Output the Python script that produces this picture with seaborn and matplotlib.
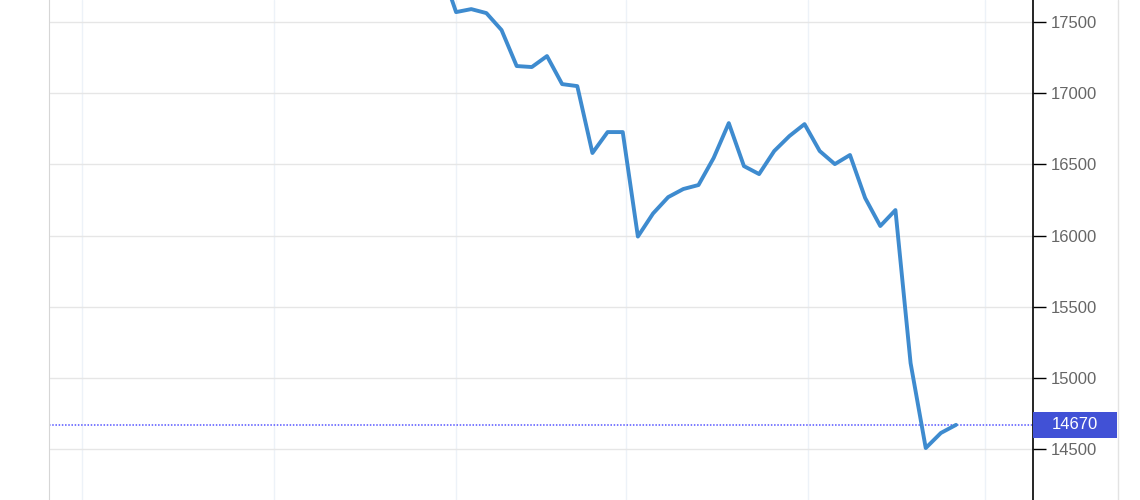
import numpy as np
import pandas as pd

import matplotlib.pyplot as plt
import matplotlib.transforms as mtransforms
from matplotlib.lines import Line2D
from matplotlib.patches import Rectangle
import seaborn as sns

# Valores (el primero queda fuera por arriba)
valores = [17880, 17570, 17591, 17563, 17444, 17191, 17184, 17261, 17064, 17050,
           16580, 16727, 16727, 15993, 16155, 16270, 16327, 16355, 16545, 16790,
           16488, 16432, 16594, 16699, 16783, 16594, 16502, 16566, 16264, 16067,
           16179, 15104, 14507, 14613, 14670]
ultimo = 14670
y_ticks = [14500, 15000, 15500, 16000, 16500, 17000, 17500]
# Separadores de mes en unidades de indice
meses = [-23.7, -11.0, 1.0, 12.2, 24.2, 35.9]

df = pd.DataFrame({"idx": np.arange(len(valores)), "valor": valores})

sns.set_style("white")
plt.rcParams['font.family'] = ['Liberation Sans', 'DejaVu Sans']

fig = plt.figure(figsize=(11.4, 5), dpi=100)
ax = fig.add_axes([49 / 1140, 0, (1033 - 49) / 1140, 1])

# Rejilla
for m in meses:
    ax.axvline(m, color="#edf2f8", lw=1, zorder=0)
for t in y_ticks:
    ax.axhline(t, color="#e6e6e6", lw=1, zorder=0)

sns.lineplot(data=df, x="idx", y="valor", ax=ax, color="#3e8bcf", lw=2.8, zorder=3)

ax.axhline(ultimo, color="#5555ff", lw=1.1, ls=(0, (1, 1.1)), zorder=2)

ax.set_xlim(-25.87, 39.08)
ax.set_ylim(14142, 17655)
ax.set_xticks([])
ax.set_yticks(y_ticks)
ax.yaxis.tick_right()
ax.tick_params(axis="y", length=9.5, width=1, color="black", pad=3,
               labelsize=12, labelcolor="#666666")
ax.set_xlabel("")
ax.set_ylabel("")

for lado in ["top", "bottom"]:
    ax.spines[lado].set_visible(False)
ax.spines["left"].set_color("#d6d6d6")
ax.spines["right"].set_color("black")
ax.spines["right"].set_linewidth(1.2)

# Etiqueta del ultimo valor
trans = mtransforms.blended_transform_factory(ax.transAxes, ax.transData)
alto = 13 / 71.17 * 500
ax.add_patch(Rectangle((1.0, ultimo - alto), 84 / 984, 2 * alto, transform=trans,
                       facecolor="#4151d6", edgecolor="none", clip_on=False, zorder=5))
ax.text(1.0 + 42 / 984, ultimo, str(ultimo), transform=trans, ha="center", va="center",
        color="white", fontsize=12, zorder=6, clip_on=False)

fig.add_artist(Line2D([1118 / 1140] * 2, [0, 1], color="#e3e3e3", lw=1))

fig.savefig("out.png", dpi=100)
